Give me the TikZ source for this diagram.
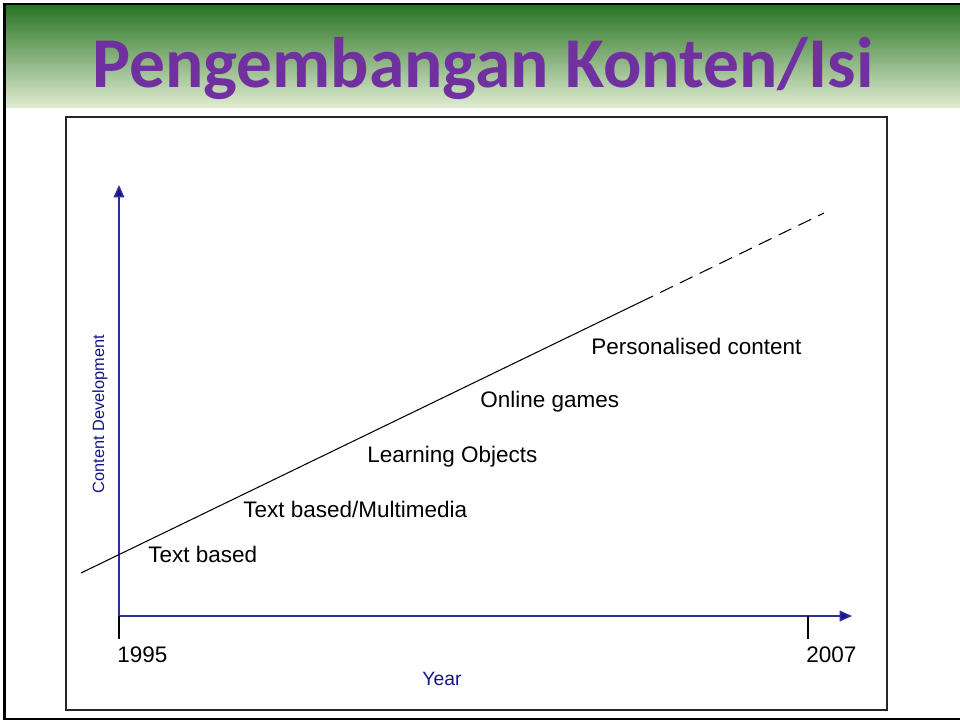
\documentclass[tikz,border=0pt]{standalone}
\usepackage{fontspec}
\setmainfont{Liberation Sans}
\newfontfamily\titlefont{Carlito}
\usetikzlibrary{arrows.meta}

\definecolor{slidegreen}{RGB}{42,116,36}
\definecolor{midgreen}{RGB}{150,186,112}
\definecolor{palegreen}{RGB}{222,235,208}
\definecolor{titlepurple}{RGB}{112,48,160}
\definecolor{axisblue}{RGB}{45,45,155}
\definecolor{labelnavy}{RGB}{20,20,140}

\begin{document}
\begin{tikzpicture}[x=0.02cm,y=-0.02cm,
    axis/.style={axisblue,line width=0.9pt,-{Triangle[length=7pt,width=6pt,fill=labelnavy]}},
    stage/.style={anchor=base west,inner sep=0pt,font=\fontsize{12.8}{14}\selectfont},
    year/.style={anchor=base west,inner sep=0pt,font=\fontsize{12.8}{14}\selectfont},
    tick/.style={black,line width=0.6pt}]

            \useasboundingbox (0,0) rectangle (960,721);

            % Title band and slide edge
            \shade[top color=slidegreen,middle color=midgreen,bottom color=palegreen] (6,5) rectangle (960,107);
            \draw[black,line width=1.6pt] (960,4) -- (4.5,4) -- (4.5,719) -- (960,719);
            \node (title) [anchor=base,inner sep=0pt,text=titlepurple,font=\titlefont\bfseries\fontsize{40.7}{44}\selectfont] at (483,87) {Pengembangan Konten/Isi};

            % Chart frame
            \draw[gray!30!black,line width=1pt] (66,117) rectangle (887,710);

            % Axes
            \coordinate (origin) at (119,616);
            \coordinate (ytop) at (119,185);
            \coordinate (xend) at (852,616);
            \draw[axis] (origin) -- (ytop);
            \draw[axis] (origin) -- (xend);
            \node (ylab) [rotate=90,text=labelnavy,inner sep=0pt,font=\fontsize{9.3}{11}\selectfont] at (100,414) {Content Development};
            \node (xlab) [anchor=base,inner sep=0pt,text=labelnavy,font=\fontsize{11}{13}\selectfont] at (442,685) {Year};

            % Year ticks and labels
            \foreach \x/\lab/\name in {119/1995/start, 808/2007/stop} {
            \coordinate (\name top) at (\x,616);
            \coordinate (\name bot) at (\x,639);
            \draw[tick] (\name top) -- (\name bot);
            \node (\name) [year] at (\x-2,662) {\lab};
            }

            % Trend line, dashed beyond today
            \coordinate (trendstart) at (81,573);
            \coordinate (trendmid) at (653,296);
            \coordinate (trendend) at (824,213);
            \draw[black,line width=0.6pt] (trendstart) -- (trendmid);
            \draw[black,line width=0.6pt,dash pattern=on 8pt off 4.5pt,dash phase=-4.5pt] (trendmid) -- (trendend);

            % Stages of content
            \foreach \x/\y/\lab/\name in {
            148/562/{Text based}/textbased,
            243/517/{Text based/Multimedia}/multimedia,
            367/462/{Learning Objects}/objects,
            480/407/{Online games}/games,
            591/354/{Personalised content}/personal} {
            \node (\name) [stage] at (\x,\y) {\lab};
            }

        \end{tikzpicture}
\end{document}
